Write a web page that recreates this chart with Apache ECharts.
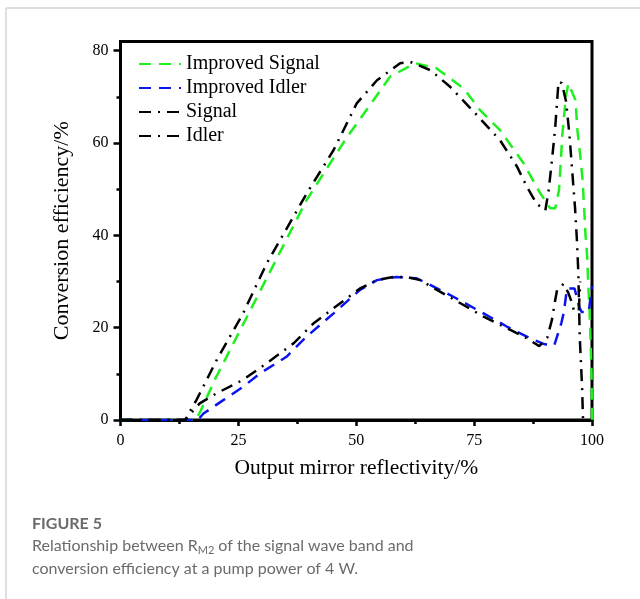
<!DOCTYPE html>
<html>
<head>
<meta charset="utf-8">
<script src="https://cdn.jsdelivr.net/npm/echarts@6/dist/echarts.min.js"></script>
<style>
  html, body { margin: 0; padding: 0; background: #fff; }
  #chart { width: 640px; height: 599px; }
</style>
</head>
<body>
<div id="chart"></div>
<script>
// Improved Signal (green dashed)
const impSignalX = [0, 16, 17, 20, 29, 39.5, 47.6, 57.2, 62.5, 67, 72.8, 76.3, 80.5, 85.5, 88.8, 91.1, 92.2, 93, 93.4, 93.7, 94.5, 95, 96.5, 96.9, 97.5, 98, 98.3, 98.6, 99, 99.2, 99.5, 99.7, 99.9, 100];
const impSignalY = [0, 0, 2, 8.7, 26.7, 47.7, 60.6, 74.4, 77.3, 76.2, 71.8, 67.1, 62.8, 55.6, 49.5, 45.9, 45.9, 49.8, 56.3, 61.7, 70.4, 72.9, 69.3, 62.8, 57.4, 52, 46.6, 40.5, 35, 29.5, 23.2, 16.7, 10.2, 0];
// Improved Idler (blue dashed)
const impIdlerX = [0, 16.4, 17.6, 21.8, 26, 29.6, 35.2, 39.5, 45.2, 50.8, 54.4, 58.5, 62.8, 66.4, 70.6, 77, 82, 86.9, 90, 92, 93.5, 94, 94.7, 96.3, 97.3, 97.8, 99.3, 100];
const impIdlerY = [0, 0, 1.4, 4.3, 7.2, 10.1, 13.7, 18.1, 23.1, 28.2, 30.3, 31, 30.7, 28.9, 26.7, 23.1, 20.2, 17.7, 16.4, 16.2, 21, 23.2, 28.5, 28.5, 24.5, 23.4, 23.4, 29];
// Signal (black dash-dot)
const signalX = [0, 13.7, 16.1, 20.4, 26, 31, 39.5, 45.2, 50.1, 54.4, 59.3, 61.4, 65.7, 69.9, 74.9, 80.5, 84.1, 86.2, 88.3, 90.1, 90.8, 91.5, 92.2, 92.9, 93.6, 94.5, 95.2, 95.8, 96.4, 96.8, 97.1, 97.4, 97.9, 98.1];
const signalY = [0, 0, 4.3, 13, 23.1, 33.9, 49.1, 58.5, 68.6, 73.6, 77.3, 77.6, 75.8, 72.2, 66.8, 60.6, 54.9, 50.5, 46.8, 45.4, 49.7, 56.2, 63.4, 73.3, 73, 69, 62, 54, 46, 39, 32, 18, 7, 0];
// Idler (black dash-dot)
const idlerX = [0, 13.7, 16.8, 20.4, 26, 31, 36.7, 40.9, 46.6, 50.8, 54.4, 57.9, 60.7, 63.6, 67.1, 72.1, 77, 82.7, 86.2, 88.8, 90.5, 91.5, 92.2, 92.6, 94, 95, 95.7, 96.2, 97.2, 97.5];
const idlerY = [0, 0, 3.6, 5.8, 8.7, 12.3, 16.6, 20.9, 25.3, 28.5, 30.3, 31, 31, 30.3, 28.2, 25.3, 22.4, 19.5, 17.7, 16, 17.8, 21.7, 26, 28.2, 29.5, 27.5, 25.5, 23.6, 23.6, 30];

const xTicks = [0, 25, 50, 75, 100];
const yTicks = [0, 20, 40, 60, 80];
const yMinorTicks = [10, 30, 50, 70];

function pairs(xs, ys) {
  return xs.map((x, i) => [x, ys[i]]);
}

const serif = "'Liberation Serif', 'DejaVu Serif', serif";
const sans = "Lato, 'Open Sans', sans-serif";
const chart = echarts.init(document.getElementById('chart'), null, { renderer: 'canvas' });

const dashDot = [12, 7, 2, 7];

chart.setOption({
  backgroundColor: '#fff',
  animation: false,
  grid: {
    left: 120.5,
    top: 41.5,
    width: 471.5,
    height: 378.5,
    show: true,
    borderColor: '#000',
    borderWidth: 3
  },
  legend: {
    left: 133,
    top: 49,
    orient: 'vertical',
    itemWidth: 42,
    itemHeight: 14,
    itemGap: 4,
    textStyle: { fontFamily: serif, fontSize: 20, color: '#000' },
    itemStyle: { opacity: 0 },
    data: ['Improved Signal', 'Improved Idler', 'Signal', 'Idler']
  },
  xAxis: {
    type: 'value',
    min: 0,
    max: 100,
    interval: 25,
    name: 'Output mirror reflectivity/%',
    nameLocation: 'middle',
    nameGap: 37,
    nameTextStyle: { fontFamily: serif, fontSize: 21.5, color: '#000' },
    axisLine: { lineStyle: { color: '#000', width: 3 } },
    axisTick: { length: 6, lineStyle: { color: '#000', width: 2.5 } },
    minorTick: { show: true, splitNumber: 2, length: 4, lineStyle: { color: '#000', width: 2.5 } },
    axisLabel: { fontFamily: serif, fontSize: 16, color: '#000', margin: 13 },
    splitLine: { show: false }
  },
  yAxis: [{
    type: 'value',
    min: 0,
    max: 82,
    interval: 10,
    name: 'Conversion efficiency/%',
    nameLocation: 'middle',
    nameGap: 47,
    nameTextStyle: { fontFamily: serif, fontSize: 22, color: '#000' },
    axisLine: { lineStyle: { color: '#000', width: 3 } },
    axisTick: { length: 7, customValues: yTicks, lineStyle: { color: '#000', width: 2.5 } },
    axisLabel: { fontFamily: serif, fontSize: 16, color: '#000', margin: 12, customValues: yTicks },
    splitLine: { show: false }
  }, {
    type: 'value',
    position: 'left',
    min: 0,
    max: 82,
    interval: 10,
    axisLine: { show: false },
    axisTick: { show: true, length: 4, customValues: yMinorTicks, lineStyle: { color: '#000', width: 2.5 } },
    axisLabel: { show: false },
    splitLine: { show: false }
  }],
  series: [
    {
      name: 'Improved Signal', type: 'line', symbol: 'none', z: 3,
      lineStyle: { color: '#1ff01f', width: 2.5, type: [12, 8] },
      itemStyle: { color: '#1ff01f' },
      data: pairs(impSignalX, impSignalY)
    },
    {
      name: 'Improved Idler', type: 'line', symbol: 'none', z: 3,
      lineStyle: { color: '#0a14f0', width: 2.5, type: [12, 8] },
      itemStyle: { color: '#0a14f0' },
      data: pairs(impIdlerX, impIdlerY)
    },
    {
      name: 'Signal', type: 'line', symbol: 'none', z: 4,
      lineStyle: { color: '#000', width: 2.5, type: dashDot },
      itemStyle: { color: '#000' },
      data: pairs(signalX, signalY)
    },
    {
      name: 'Idler', type: 'line', symbol: 'none', z: 4,
      lineStyle: { color: '#000', width: 2.5, type: dashDot },
      itemStyle: { color: '#000' },
      data: pairs(idlerX, idlerY)
    }
  ],
  graphic: [
    { type: 'line', shape: { x1: 6, y1: 8, x2: 640, y2: 8 }, style: { stroke: '#d4d4d4', lineWidth: 1.5 } },
    { type: 'line', shape: { x1: 6, y1: 8, x2: 6, y2: 599 }, style: { stroke: '#d4d4d4', lineWidth: 1.5 } },
    {
      type: 'text', left: 32, top: 516,
      style: { text: 'FIGURE 5', font: "bold 16px " + sans, fill: '#6b6b6b' }
    },
    {
      type: 'text', left: 32, top: 538,
      style: {
        text: '{a|Relationship between R}{s|M2}{a| of the signal wave band and}',
        rich: {
          a: { font: "16px " + sans, fill: '#6b6b6b' },
          s: { font: "11px " + sans, fill: '#6b6b6b', padding: [9, 0, 0, 0] }
        }
      }
    },
    {
      type: 'text', left: 32, top: 561,
      style: { text: 'conversion efficiency at a pump power of 4 W.', font: "16px " + sans, fill: '#6b6b6b' }
    }
  ]
});
</script>
</body>
</html>
